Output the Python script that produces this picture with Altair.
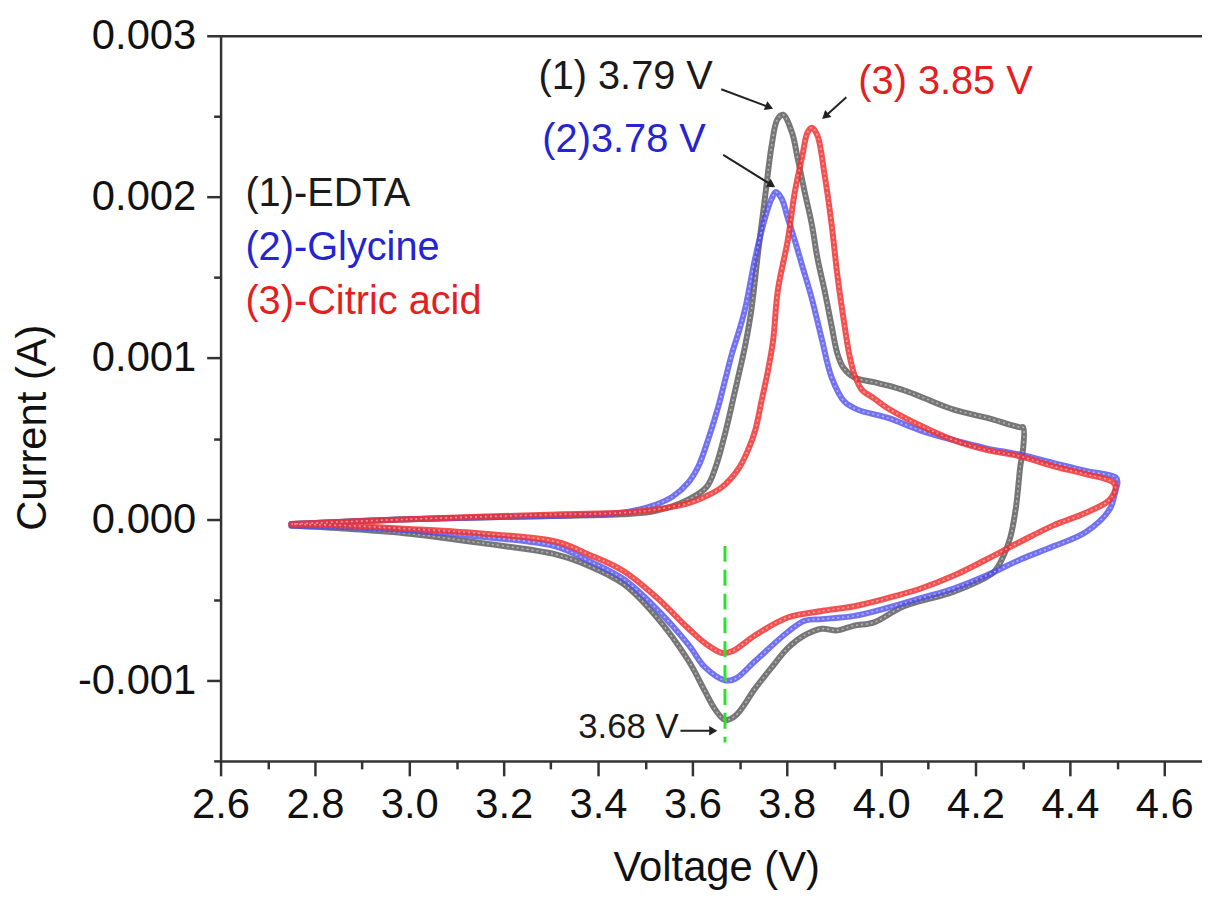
import altair as alt
import pandas as pd

FONT = "Liberation Sans"

# ---------------- data ----------------
edta_v = [2.75, 3.0, 3.3, 3.45, 3.52, 3.59, 3.63, 3.65, 3.67, 3.686, 3.70, 3.712, 3.725, 3.739,
          3.754, 3.768, 3.78, 3.792, 3.811, 3.823, 3.838, 3.853, 3.865, 3.88, 3.895, 3.907, 3.92,
          3.943, 3.985, 4.013, 4.048, 4.084, 4.154, 4.223, 4.295, 4.301,
          4.301, 4.295, 4.286, 4.274, 4.259, 4.238, 4.154, 4.048, 3.985, 3.943, 3.907, 3.874,
          3.838, 3.802, 3.768, 3.733, 3.691, 3.669, 3.648, 3.627, 3.592, 3.522, 3.453, 3.381,
          3.312, 3.158, 3.0, 2.87, 2.75]
edta_a = [-0.00003, 0.0, 0.00002, 0.00003, 0.00005, 0.00012, 0.0002, 0.00033, 0.00054, 0.00074,
          0.00092, 0.00108, 0.0013, 0.00165, 0.002, 0.00232, 0.00248, 0.00251, 0.0024, 0.00224,
          0.00203, 0.00183, 0.00162, 0.00142, 0.0012, 0.00103, 0.00094, 0.00088, 0.00085, 0.00083,
          0.0008, 0.00076, 0.00068, 0.00063, 0.00057, 0.00057,
          0.00044, 0.00033, 0.00008, -0.00011, -0.00023, -0.00033, -0.00045, -0.00054, -0.00064,
          -0.00066, -0.00069, -0.00068, -0.00072, -0.0008, -0.00092, -0.00105, -0.00122, -0.001245,
          -0.00118, -0.00107, -0.00088, -0.0006, -0.0004, -0.00029, -0.00022, -0.00015, -0.00009,
          -0.00006, -0.00004]

gly_v = [2.75, 3.0, 3.3, 3.45, 3.486, 3.522, 3.558, 3.592, 3.613, 3.634, 3.655, 3.669, 3.684, 3.70,
         3.712, 3.733, 3.754, 3.768, 3.777, 3.789, 3.802, 3.817, 3.832, 3.853, 3.874, 3.895, 3.922,
         3.95, 4.013, 4.084, 4.154, 4.223, 4.295, 4.364, 4.434, 4.497, 4.501,
         4.497, 4.484, 4.434, 4.364, 4.295, 4.223, 4.154, 4.084, 4.013, 3.943, 3.874, 3.838, 3.802,
         3.733, 3.691, 3.669, 3.627, 3.592, 3.522, 3.453, 3.381, 3.312, 3.158, 3.0, 2.87, 2.75]
gly_a = [-0.00003, 0.0, 0.00002, 0.00004, 0.00006, 0.00009, 0.00014, 0.00023, 0.00033, 0.0005,
         0.0007, 0.00086, 0.00103, 0.00118, 0.00131, 0.00162, 0.00187, 0.00199, 0.00203, 0.00199,
         0.00187, 0.00173, 0.00158, 0.00137, 0.00112, 0.00088, 0.00073, 0.00068, 0.00063, 0.00055,
         0.00049, 0.00044, 0.0004, 0.00035, 0.0003, 0.00026, 0.00023,
         0.00018, 0.00006, -0.00008, -0.00017, -0.00025, -0.00035, -0.00043, -0.00049, -0.00055,
         -0.0006, -0.00062, -0.00063, -0.0007, -0.00088, -0.00099, -0.001, -0.00092, -0.00078,
         -0.00055, -0.00037, -0.00026, -0.00017, -0.00011, -0.00007, -0.00005, -0.00004]

cit_v = [2.75, 3.0, 3.312, 3.453, 3.522, 3.592, 3.627, 3.663, 3.697, 3.718, 3.733, 3.747, 3.76,
         3.771, 3.781, 3.802, 3.817, 3.832, 3.844, 3.853, 3.865, 3.88, 3.895, 3.907, 3.922, 3.932,
         3.943, 3.96, 3.985, 4.013, 4.084, 4.154, 4.223, 4.295, 4.364, 4.434, 4.491, 4.497,
         4.484, 4.434, 4.364, 4.295, 4.223, 4.154, 4.084, 4.013, 3.943, 3.874, 3.802, 3.733, 3.684,
         3.663, 3.627, 3.592, 3.522, 3.453, 3.381, 3.312, 3.158, 3.0, 2.87, 2.75]
cit_a = [-0.00003, 0.0, 0.00003, 0.00004, 0.00006, 0.0001, 0.00014, 0.0002, 0.00031, 0.00043,
         0.00055, 0.00074, 0.00092, 0.00111, 0.00142, 0.00173, 0.00203, 0.00224, 0.0024, 0.00243,
         0.00238, 0.00214, 0.00183, 0.00152, 0.00121, 0.00103, 0.0009, 0.0008, 0.00075, 0.00069,
         0.00058, 0.00049, 0.00043, 0.00039, 0.00033, 0.00028, 0.00023, 0.0002,
         0.00012, 0.00004, -0.00004, -0.00014, -0.00025, -0.00035, -0.00043, -0.00049, -0.00054,
         -0.00057, -0.00061, -0.00072, -0.00082, -0.00083, -0.00077, -0.00068, -0.00048, -0.00032,
         -0.00022, -0.00014, -0.00009, -0.00006, -0.00004, -0.00003]

series_names = ["(1)-EDTA", "(2)-Glycine", "(3)-Citric acid"]
series_colors = ["#5e5e5e", "#4f4fee", "#f03333"]
series_opacity = [0.85, 0.8, 0.85]

x_tick_values = [2.6, 2.7, 2.8, 2.9, 3.0, 3.1, 3.2, 3.3, 3.4, 3.5, 3.6, 3.7, 3.8, 3.9, 4.0,
                 4.1, 4.2, 4.3, 4.4, 4.5, 4.6]
y_tick_values = [-0.0015, -0.001, -0.0005, 0.0, 0.0005, 0.001, 0.0015, 0.002, 0.0025, 0.003]

# text annotations
label_text = ["(1)-EDTA", "(2)-Glycine", "(3)-Citric acid",
              "(1) 3.79 V", "(2)3.78 V", "(3) 3.85 V", "3.68 V"]
label_x = [2.6526, 2.6526, 2.6526, 3.2737, 3.282, 3.9516, 3.3579]
label_y = [0.001941, 0.001608, 0.001275, 0.002668, 0.00228, 0.002637, -0.0013555]
label_color = ["#1a1a1a", "#2424d0", "#e32020", "#1a1a1a", "#2424d0", "#e32020", "#1a1a1a"]
label_size = [40, 40, 40, 40, 40, 40, 35]

# arrows: start point -> arrow-head point
arrow_x0 = [3.6611, 3.6653, 3.9263, 3.5747]
arrow_y0 = [0.002668, 0.0022613, 0.0026186, -0.0013124]
arrow_x1 = [3.763, 3.768, 3.8815, 3.6442]
arrow_y1 = [0.0025564, 0.0020739, 0.0025003, -0.0013124]
arrow_angle = [22, 32, 138, 0]

# dashed marker of the cathodic peak
marker_x = [3.669]
marker_y = [-0.000166]
marker_y2 = [-0.001386]

X_DOMAIN = [2.6, 4.68]
Y_DOMAIN = [-0.0015, 0.003]

# ---------------- chart ----------------
xs = alt.Scale(domain=X_DOMAIN, nice=False, zero=False)
ys = alt.Scale(domain=Y_DOMAIN, nice=False, zero=False)

AX_COLOR = "#333333"
major_x = "round(datum.value * 10) % 2 == 0"
major_y = "round(datum.value * 2000) % 2 == 0"

x_axis = alt.Axis(
    values=x_tick_values,
    labelExpr=f"{major_x} ? format(datum.value, '.1f') : ''",
    tickSize={"condition": {"test": major_x, "value": 15}, "value": 8},
    tickWidth=2.5, tickColor=AX_COLOR, domainColor=AX_COLOR, domainWidth=2.5,
    labelFont=FONT, labelFontSize=42, labelColor="#111111", labelPadding=9,
    labelFlush=False, labelOverlap=False, grid=False,
    title="Voltage (V)", titleFont=FONT, titleFontSize=42, titleFontWeight="normal",
    titleColor="#111111", titleBaseline="alphabetic", titleAlign="center",
    titleX=499, titleY=120,
)
y_axis = alt.Axis(
    orient="left",
    values=y_tick_values,
    labelExpr=f"{major_y} ? (datum.value < 0 ? '-' + format(-datum.value, '.3f') : format(datum.value, '.3f')) : ''",
    tickSize={"condition": {"test": major_y, "value": 14}, "value": 7},
    tickWidth=2.5, tickColor=AX_COLOR, domainColor=AX_COLOR, domainWidth=2.5,
    labelFont=FONT, labelFontSize=42, labelColor="#111111", labelPadding=11,
    labelFlush=False, labelOverlap=False, grid=False,
    title="Current (A)", titleFont=FONT, titleFontSize=42, titleFontWeight="normal",
    titleColor="#111111", titleAngle=-90, titleBaseline="alphabetic", titleAlign="center",
    titleX=-176, titleY=394,
)

curves = [(edta_v, edta_a), (gly_v, gly_a), (cit_v, cit_a)]
layers = []
for k, (vv, aa) in enumerate(curves):
    d = pd.DataFrame({"v": vv, "a": aa, "i": list(range(len(vv)))})
    enc_x = alt.X("v:Q", scale=xs, axis=x_axis if k == 0 else None)
    enc_y = alt.Y("a:Q", scale=ys, axis=y_axis if k == 0 else None)
    layers.append(
        alt.Chart(d).mark_line(
            color=series_colors[k], strokeWidth=6, opacity=series_opacity[k],
            strokeJoin="round", strokeCap="round", interpolate="catmull-rom",
        ).encode(x=enc_x, y=enc_y, order="i:Q")
    )
    # light inner dotted stroke, giving the open-marker texture of the original
    layers.append(
        alt.Chart(d).mark_line(
            color="white", strokeWidth=1.6, opacity=0.45, strokeDash=[2, 3],
            interpolate="catmull-rom",
        ).encode(x=alt.X("v:Q", scale=xs, axis=None), y=alt.Y("a:Q", scale=ys, axis=None),
                 order="i:Q")
    )

marker_df = pd.DataFrame({"x": marker_x, "y": marker_y, "y2": marker_y2})
layers.append(
    alt.Chart(marker_df).mark_rule(color="#2ee02e", strokeWidth=3, strokeDash=[16, 8]).encode(
        x=alt.X("x:Q", scale=xs, axis=None),
        y=alt.Y("y:Q", scale=ys, axis=None),
        y2="y2:Q",
    )
)

arrow_rows = []
for k in range(len(arrow_x0)):
    arrow_rows.append({"id": k, "o": 0, "x": arrow_x0[k], "y": arrow_y0[k]})
    arrow_rows.append({"id": k, "o": 1, "x": arrow_x1[k], "y": arrow_y1[k]})
arrow_df = pd.DataFrame(arrow_rows)
layers.append(
    alt.Chart(arrow_df).mark_line(color="#222222", strokeWidth=2).encode(
        x=alt.X("x:Q", scale=xs, axis=None),
        y=alt.Y("y:Q", scale=ys, axis=None),
        detail="id:N", order="o:Q",
    )
)
head_df = pd.DataFrame({"x": arrow_x1, "y": arrow_y1, "ang": arrow_angle})
layers.append(
    alt.Chart(head_df).mark_point(shape="triangle-right", filled=True, size=90,
                                  color="#222222", opacity=1).encode(
        x=alt.X("x:Q", scale=xs, axis=None),
        y=alt.Y("y:Q", scale=ys, axis=None),
        angle=alt.Angle("ang:Q", scale=None),
    )
)

label_df = pd.DataFrame({"t": label_text, "x": label_x, "y": label_y,
                         "c": label_color, "fs": label_size})
layers.append(
    alt.Chart(label_df).mark_text(align="left", baseline="alphabetic", font=FONT).encode(
        x=alt.X("x:Q", scale=xs, axis=None),
        y=alt.Y("y:Q", scale=ys, axis=None),
        text="t:N",
        color=alt.Color("c:N", scale=None),
        size=alt.Size("fs:Q", scale=None),
    )
)

# top frame line (axis without ticks / labels)
top_df = pd.DataFrame({"v": X_DOMAIN, "a": [0.0, 0.0]})
layers.append(
    alt.Chart(top_df).mark_point(opacity=0).encode(
        x=alt.X("v:Q", scale=xs, axis=alt.Axis(orient="top", labels=False, ticks=False,
                                               domain=True, domainColor=AX_COLOR,
                                               domainWidth=2.5, grid=False, title=None)),
        y=alt.Y("a:Q", scale=ys, axis=None),
    )
)

chart = alt.layer(*layers).resolve_axis(x="independent", y="independent").properties(
    width=988, height=730,
    autosize=alt.AutoSizeParams(type="none"),
    padding={"left": 214, "top": 25, "right": 0, "bottom": 128},
).configure_view(stroke=None).configure(background="white")

chart.save("out.html", embed_options={"renderer": "svg", "actions": False})
